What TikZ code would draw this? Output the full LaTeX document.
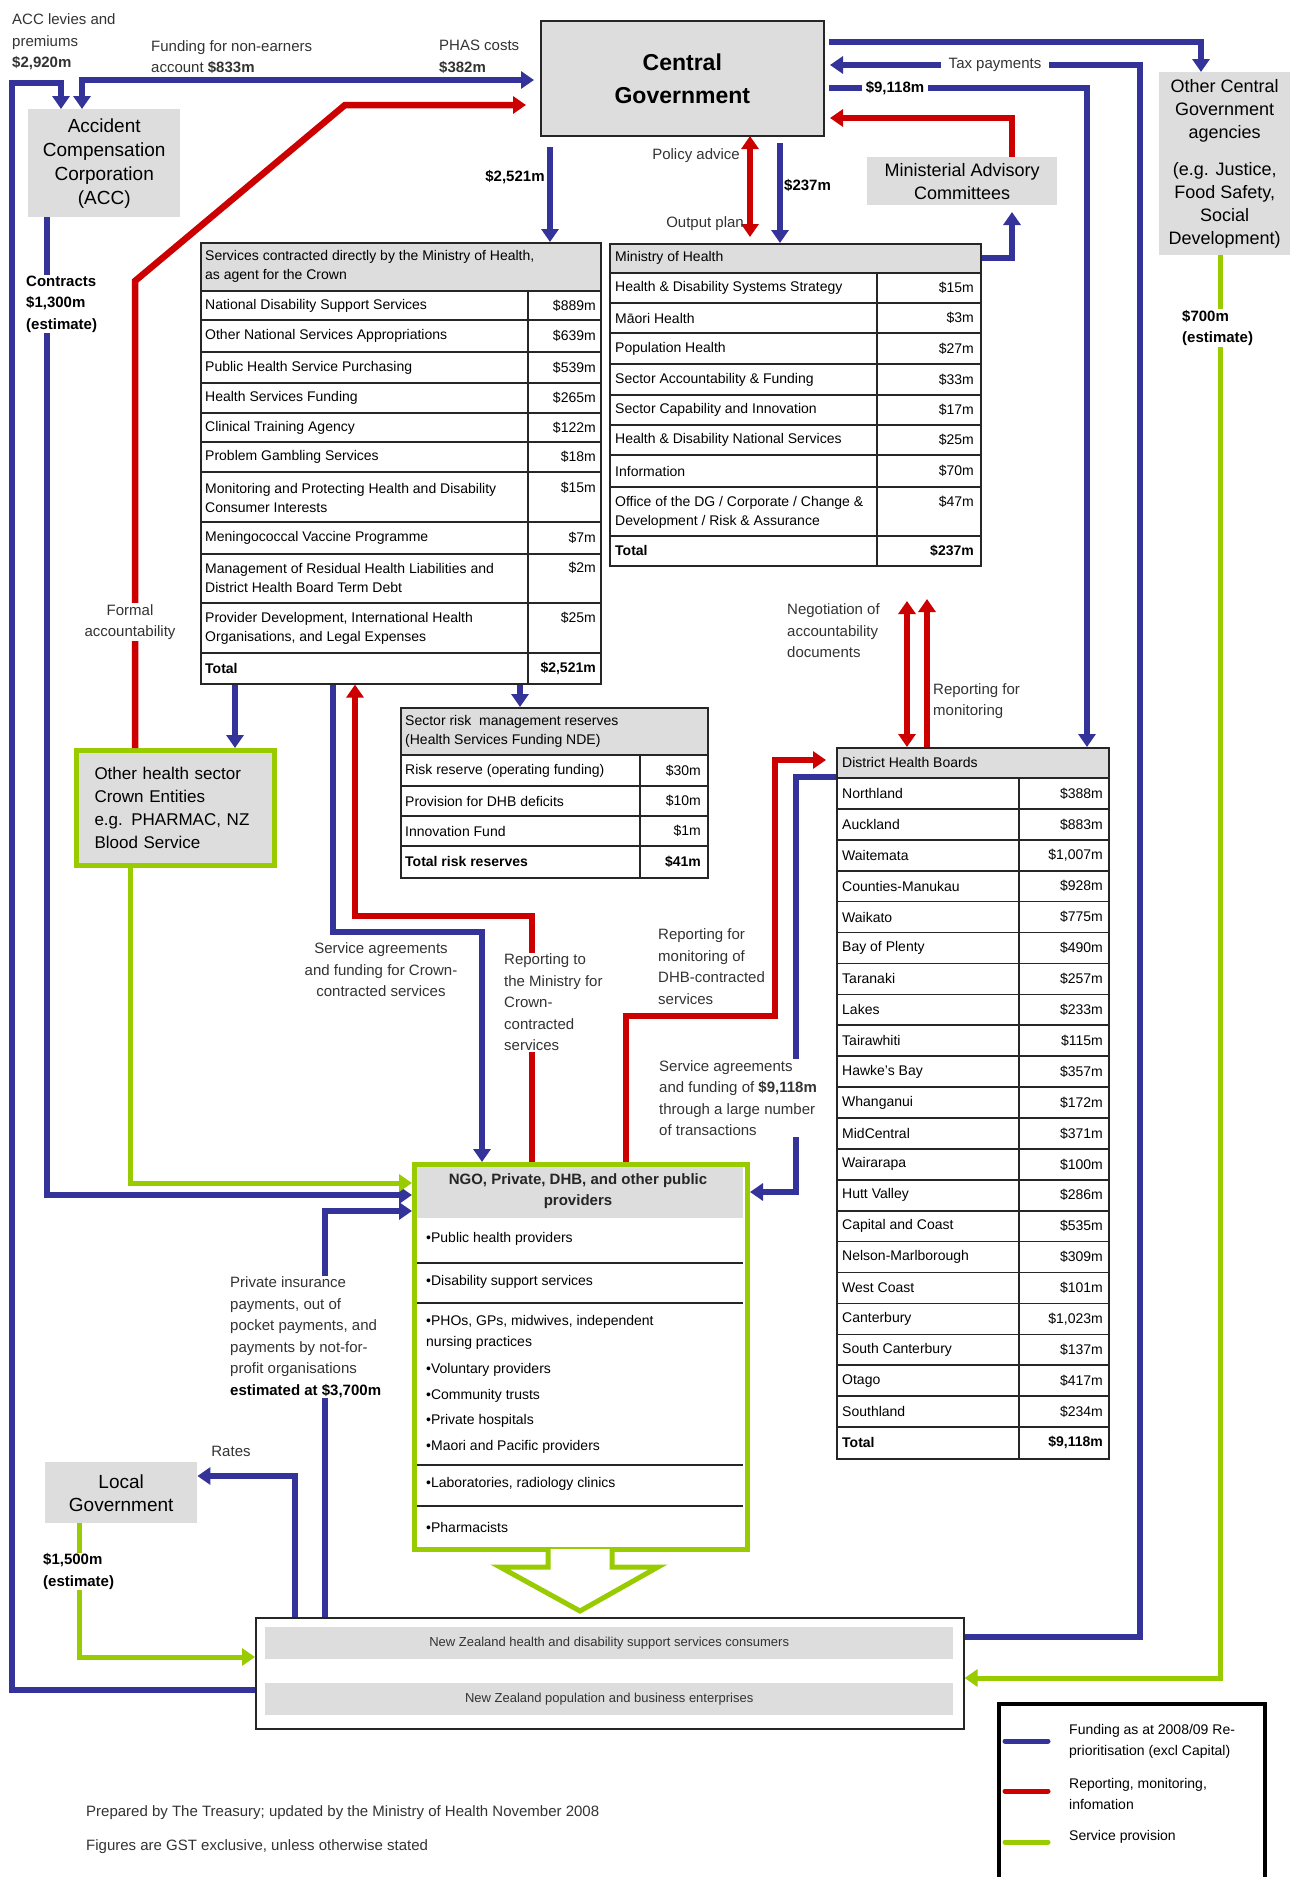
\documentclass[tikz,border=0pt]{standalone}
\usepackage{fontspec}
\setmainfont{Liberation Sans}
\usetikzlibrary{arrows.meta}
\definecolor{fblue}{HTML}{333399}
\definecolor{fred}{HTML}{CC0000}
\definecolor{fgreen}{HTML}{99CC00}
\definecolor{boxgrey}{HTML}{DDDDDD}
\definecolor{labgrey}{HTML}{333333}
\begin{document}
\begin{tikzpicture}[x=1pt,y=-1pt,
 bl/.style={draw=fblue,line width=6.5pt},
 rd/.style={draw=fred,line width=6.5pt},
 gr/.style={draw=fgreen,line width=5pt},
 arr/.style={-{Triangle[length=13pt,width=17pt]}},
 darr/.style={{Triangle[length=13pt,width=17pt]}-{Triangle[length=13pt,width=17pt]}},
 lab/.style={font=\fontsize{15}{21.5}\selectfont, text=labgrey, inner sep=1pt, align=left},
 labb/.style={font=\fontsize{15}{21.5}\selectfont\bfseries, text=black, inner sep=1pt, align=left},
 tx/.style={font=\fontsize{14}{19}\selectfont, inner sep=0pt, text=black},
 tl/.style={tx, anchor=west, align=left},
 tr/.style={tx, anchor=east},
 tline/.style={draw=black!85, line width=1.6pt},
 tbox/.style={draw=black!85, line width=1.6pt, anchor=north west, inner sep=0pt},
 gbox/.style={fill=boxgrey, anchor=north west, inner sep=0pt, align=center},
]
\useasboundingbox (0,0) rectangle (1290,1877);
\fill[white] (0,0) rectangle (1290,1877);

% ---------- boxes ----------
\node[gbox, draw=black!85, line width=1.6pt, minimum width=283pt, minimum height=115pt,
  font=\fontsize{23}{33}\selectfont\bfseries] (cg) at (540,20) {Central\\Government};
\node[gbox, minimum width=152pt, minimum height=108pt,
  font=\fontsize{19}{24}\selectfont] (acc) at (28,109) {Accident\\Compensation\\Corporation\\(ACC)};
\node[gbox, minimum width=131pt, minimum height=183pt,
  font=\fontsize{18}{23}\selectfont] (ocg) at (1159,72) {Other Central\\Government\\agencies\\[14pt](e.g. Justice,\\Food Safety,\\Social\\Development)};
\node[gbox, minimum width=190pt, minimum height=48pt,
  font=\fontsize{18}{23}\selectfont] (mac) at (867,157) {Ministerial Advisory\\Committees};
\node[draw=fgreen, line width=5pt, fill=boxgrey, anchor=north west, minimum height=115pt,
  text width=162pt, inner xsep=18pt, align=left,
  font=\fontsize{17}{23}\selectfont] (ohs) at (74,748) {Other health sector\\Crown Entities\\e.g. PHARMAC, NZ\\Blood Service};
\node[gbox, minimum width=152pt, minimum height=61pt,
  font=\fontsize{19}{23}\selectfont] (lg) at (45,1462) {Local\\Government};

% ---------- services table ----------
\fill[boxgrey] (200,242) rectangle (600,291);
\node[tbox, minimum width=400pt, minimum height=441pt] (svc) at (200,242) {};
\foreach \yy in {291,320,352,383,413,442,472,522,554,603,653}
  \draw[tline] (200,\yy) -- (600,\yy);
\draw[tline] (528,291) -- (528,683);
\node[tl] at (205,266) {Services contracted directly by the Ministry of Health,\\as agent for the Crown};
\node[tl] at (205,305.5) {National Disability Support Services}; \node[tr] at (596,305.5) {\$889m};
\node[tl] at (205,336) {Other National Services Appropriations}; \node[tr] at (596,336) {\$639m};
\node[tl] at (205,367.5) {Public Health Service Purchasing}; \node[tr] at (596,367.5) {\$539m};
\node[tl] at (205,398) {Health Services Funding}; \node[tr] at (596,398) {\$265m};
\node[tl] at (205,427.5) {Clinical Training Agency}; \node[tr] at (596,427.5) {\$122m};
\node[tl] at (205,457) {Problem Gambling Services}; \node[tr] at (596,457) {\$18m};
\node[tl] at (205,497.5) {Monitoring and Protecting Health and Disability\\Consumer Interests}; \node[tr] at (596,488) {\$15m};
\node[tl] at (205,538) {Meningococcal Vaccine Programme}; \node[tr] at (596,538) {\$7m};
\node[tl] at (205,578) {Management of Residual Health Liabilities and\\District Health Board Term Debt}; \node[tr] at (596,568) {\$2m};
\node[tl] at (205,628) {Provider Development, International Health\\Organisations, and Legal Expenses}; \node[tr] at (596,618) {\$25m};
\node[tl] at (205,668) {\textbf{Total}}; \node[tr] at (596,668) {\textbf{\$2,521m}};

% ---------- Ministry of Health table ----------
\fill[boxgrey] (609,243) rectangle (980,273);
\node[tbox, minimum width=371pt, minimum height=322pt] (moh) at (609,243) {};
\foreach \yy in {273,303,333,364,395,425,455,487,536}
  \draw[tline] (609,\yy) -- (980,\yy);
\draw[tline] (877,273) -- (877,565);
\node[tl] at (615,258) {Ministry of Health};
\node[tl] at (615,288) {Health \& Disability Systems Strategy}; \node[tr] at (974,288) {\$15m};
\node[tl] at (615,318) {Māori Health}; \node[tr] at (974,318) {\$3m};
\node[tl] at (615,348.5) {Population Health}; \node[tr] at (974,348.5) {\$27m};
\node[tl] at (615,379.5) {Sector Accountability \& Funding}; \node[tr] at (974,379.5) {\$33m};
\node[tl] at (615,410) {Sector Capability and Innovation}; \node[tr] at (974,410) {\$17m};
\node[tl] at (615,440) {Health \& Disability National Services}; \node[tr] at (974,440) {\$25m};
\node[tl] at (615,471) {Information}; \node[tr] at (974,471) {\$70m};
\node[tl] at (615,512) {Office of the DG / Corporate / Change \&\\Development / Risk \& Assurance}; \node[tr] at (974,502) {\$47m};
\node[tl] at (615,550.5) {\textbf{Total}}; \node[tr] at (974,550.5) {\textbf{\$237m}};

% ---------- sector risk table ----------
\fill[boxgrey] (400,707) rectangle (707,755);
\node[tbox, minimum width=307pt, minimum height=170pt] (srm) at (400,707) {};
\foreach \yy in {755,786,816,846}
  \draw[tline] (400,\yy) -- (707,\yy);
\draw[tline] (640,755) -- (640,877);
\node[tl] at (405,731) {Sector risk\ \ management reserves\\(Health Services Funding NDE)};
\node[tl] at (405,770.5) {Risk reserve (operating funding)}; \node[tr] at (701,770.5) {\$30m};
\node[tl] at (405,801) {Provision for DHB deficits}; \node[tr] at (701,801) {\$10m};
\node[tl] at (405,831) {Innovation Fund}; \node[tr] at (701,831) {\$1m};
\node[tl] at (405,861.5) {\textbf{Total risk reserves}}; \node[tr] at (701,861.5) {\textbf{\$41m}};

% ---------- DHB table ----------
\fill[boxgrey] (836,747) rectangle (1108,778);
\node[tbox, minimum width=272pt, minimum height=711pt] (dhb) at (836,747) {};
\foreach \k in {0,...,21}
  \draw[tline] (836,{778+\k*30.909}) -- (1108,{778+\k*30.909});
\draw[tline] (1019,778) -- (1019,1458);
\node[tl] at (842,762.5) {District Health Boards};
\foreach \dname/\dval [count=\di from 0] in {Northland/\$388m, Auckland/\$883m, Waitemata/{\$1,007m},
  Counties-Manukau/\$928m, Waikato/\$775m, Bay of Plenty/\$490m, Taranaki/\$257m, Lakes/\$233m,
  Tairawhiti/\$115m, Hawke's Bay/\$357m, Whanganui/\$172m, MidCentral/\$371m, Wairarapa/\$100m,
  Hutt Valley/\$286m, Capital and Coast/\$535m, Nelson-Marlborough/\$309m, West Coast/\$101m,
  Canterbury/{\$1,023m}, South Canterbury/\$137m, Otago/\$417m, Southland/\$234m} {
  \node[tl] at (842,{778+\di*30.909+15.45}) {\dname};
  \node[tr] at (1103,{778+\di*30.909+15.45}) {\dval};
}
\node[tl] at (842,1442.5) {\textbf{Total}}; \node[tr] at (1103,1442.5) {\textbf{\$9,118m}};

% ---------- NGO box ----------
\fill[boxgrey] (414,1164) rectangle (743,1218);
\foreach \yy in {1263,1303,1465,1506}
  \draw[tline] (414,\yy) -- (743,\yy);
\node[draw=fgreen, line width=5pt, anchor=north west, minimum width=333pt, minimum height=385pt, inner sep=0pt] (ngo) at (412,1162) {};
\node[tx, font=\fontsize{15}{21}\selectfont\bfseries, align=center, text=black!85] at (578,1191) {NGO, Private, DHB, and other public\\providers};
\node[tl] at (426,1239) {•Public health providers};
\node[tl] at (426,1282) {•Disability support services};
\node[tl, font=\fontsize{14}{21}\selectfont] at (426,1332.5) {•PHOs, GPs, midwives, independent\\nursing practices};
\node[tl] at (426,1370) {•Voluntary providers};
\node[tl] at (426,1396) {•Community trusts};
\node[tl] at (426,1421) {•Private hospitals};
\node[tl] at (426,1447) {•Maori and Pacific providers};
\node[tl] at (426,1484) {•Laboratories, radiology clinics};
\node[tl] at (426,1527) {•Pharmacists};
\draw[gr, fill=white, line join=miter] (548,1549) -- (548,1567) -- (500,1567) -- (580,1611) -- (658,1567) -- (612,1567) -- (612,1549);

% ---------- consumers ----------
\node[tbox, minimum width=708pt, minimum height=111pt] (cons) at (255,1617) {};
\node[gbox, minimum width=688pt, minimum height=32pt, font=\fontsize{13}{16}\selectfont, text=labgrey] (c1) at (265,1627) {New Zealand health and disability support services consumers};
\node[gbox, minimum width=688pt, minimum height=32pt, font=\fontsize{13}{16}\selectfont, text=labgrey] (c2) at (265,1683) {New Zealand population and business enterprises};

% ---------- connectors ----------
\draw[bl,arr] (cons.west |- 0,1690) -- (12,1690) -- (12,83) -- (61,83) -- (acc.north -| 61,0);
\draw[bl,darr] (acc.north -| 82,0) -- (82,80) -- (534,80);
\draw[rd,arr] (ohs.north -| 135,0) -- (135,281) -- (345,105) -- (526,105);
\draw[bl,arr] (acc.south -| 47,0) -- (47,1195) -- (ngo.west |- 0,1195);
\draw[gr,arr] (ohs.south -| 130,0) -- (130,1183) -- (ngo.west |- 0,1183);
\draw[bl,arr] (cons.north -| 325,0) -- (325,1211) -- (ngo.west |- 0,1211);
\draw[bl,arr] (cons.north -| 295,0) -- (295,1476) -- (lg.east |- 0,1476);
\draw[gr,arr] (lg.south -| 79,0) -- (79,1657) -- (cons.west |- 0,1657);
\draw[bl,arr] (svc.south -| 333,0) -- (333,932) -- (482,932) -- (ngo.north -| 482,0);
\draw[rd,arr] (ngo.north -| 532,0) -- (532,916) -- (355,916) -- (svc.south -| 355,0);
\draw[rd,arr] (ngo.north -| 626,0) -- (626,1016) -- (775,1016) -- (775,760) -- (826,760);
\draw[bl,arr] (dhb.west |- 0,777) -- (796,777) -- (796,1192) -- (ngo.east |- 0,1192);
\draw[rd,darr] (907,601) -- (dhb.north -| 907,0);
\draw[rd,arr] (dhb.north -| 927,0) -- (927,599);
\draw[bl,arr] (829,88) -- (1087,88) -- (dhb.north -| 1087,0);
\draw[bl,arr] (cons.east |- 0,1637) -- (1140,1637) -- (1140,65) -- (830,65);
\draw[bl,arr] (829,42) -- (1201,42) -- (ocg.north -| 1201,0);
\draw[rd,arr] (mac.north -| 1012,0) -- (1012,118) -- (830,118);
\draw[bl,arr] (moh.east |- 0,258) -- (1012,258) -- (1012,212);
\draw[rd,darr] (750,136) -- (750,237);
\draw[bl,arr] (780,143) -- (moh.north -| 780,0);
\draw[bl,arr] (550,147) -- (svc.north -| 550,0);
\draw[bl,arr] (svc.south -| 235,0) -- (ohs.north -| 235,0);
\draw[bl,arr] (svc.south -| 520,0) -- (srm.north -| 520,0);
\draw[gr,arr] (ocg.south -| 1220,0) -- (1220,1678) -- (cons.east |- 0,1678);

% ---------- labels ----------
\node[lab, anchor=west] at (11,42) {ACC levies and\\premiums\\\textbf{\$2,920m}};
\node[lab, anchor=west] at (150,57) {Funding for non-earners\\account \textbf{\$833m}};
\node[lab, anchor=west] at (438,57) {PHAS costs\\\textbf{\$382m}};
\node[labb, anchor=west, fill=white] at (25,304) {Contracts\\\$1,300m\\(estimate)};
\node[lab, align=center, fill=white] at (130,622) {Formal\\accountability};
\node[lab, anchor=east] at (741,156) {Policy advice};
\node[lab, anchor=east] at (745,224) {Output plan};
\node[labb, anchor=west] at (783,185) {\$237m};
\node[labb] at (515,177) {\$2,521m};
\node[labb, fill=white, inner xsep=4pt] at (895,88) {\$9,118m};
\node[lab, fill=white, inner xsep=8pt] at (995,65) {Tax payments};
\node[lab, align=center] at (381,970) {Service agreements\\and funding for Crown-\\contracted services};
\node[lab, anchor=west, fill=white] at (503,1002.5) {Reporting to\\the Ministry for\\Crown-\\contracted\\services};
\node[lab, anchor=west] at (657,966.5) {Reporting for\\monitoring of\\DHB-contracted\\services};
\node[lab, anchor=west, fill=white] at (658,1098) {Service agreements\\and funding of \textbf{\$9,118m}\\through a large number\\of transactions};
\node[lab, anchor=west] at (786,631) {Negotiation of\\accountability\\documents};
\node[lab, anchor=west] at (932,701) {Reporting for\\monitoring};
\node[lab, anchor=west, fill=white] at (229,1337) {Private insurance\\payments, out of\\pocket payments, and\\payments by not-for-\\profit organisations\\\textbf{\color{black}estimated at \$3,700m}};
\node[lab] at (231,1451) {Rates};
\node[labb, anchor=west, fill=white] at (42,1571.5) {\$1,500m\\(estimate)};
\node[labb, anchor=west, fill=white] at (1181,328) {\$700m\\(estimate)};

\node[lab, anchor=west] at (85,1813) {Prepared by The Treasury; updated by the Ministry of Health November 2008};
\node[lab, anchor=west] at (85,1847) {Figures are GST exclusive, unless otherwise stated};

% ---------- legend ----------
\node[draw=black, line width=4pt, anchor=north west, minimum width=266pt, minimum height=190pt, inner sep=0pt] (leg) at (997,1702) {};
\draw[draw=fblue, line width=5pt, line cap=round] (1005,1741) -- (1048,1741);
\draw[draw=fred, line width=5pt, line cap=round] (1005,1791) -- (1048,1791);
\draw[draw=fgreen, line width=5pt, line cap=round] (1005,1842) -- (1048,1842);
\node[tl, font=\fontsize{14}{21}\selectfont] at (1069,1741.5) {Funding as at 2008/09 Re-\\prioritisation (excl Capital)};
\node[tl, font=\fontsize{14}{21}\selectfont] at (1069,1793.5) {Reporting, monitoring,\\infomation};
\node[tl, font=\fontsize{14}{21}\selectfont] at (1069,1837) {Service provision};
\end{tikzpicture}
\end{document}
